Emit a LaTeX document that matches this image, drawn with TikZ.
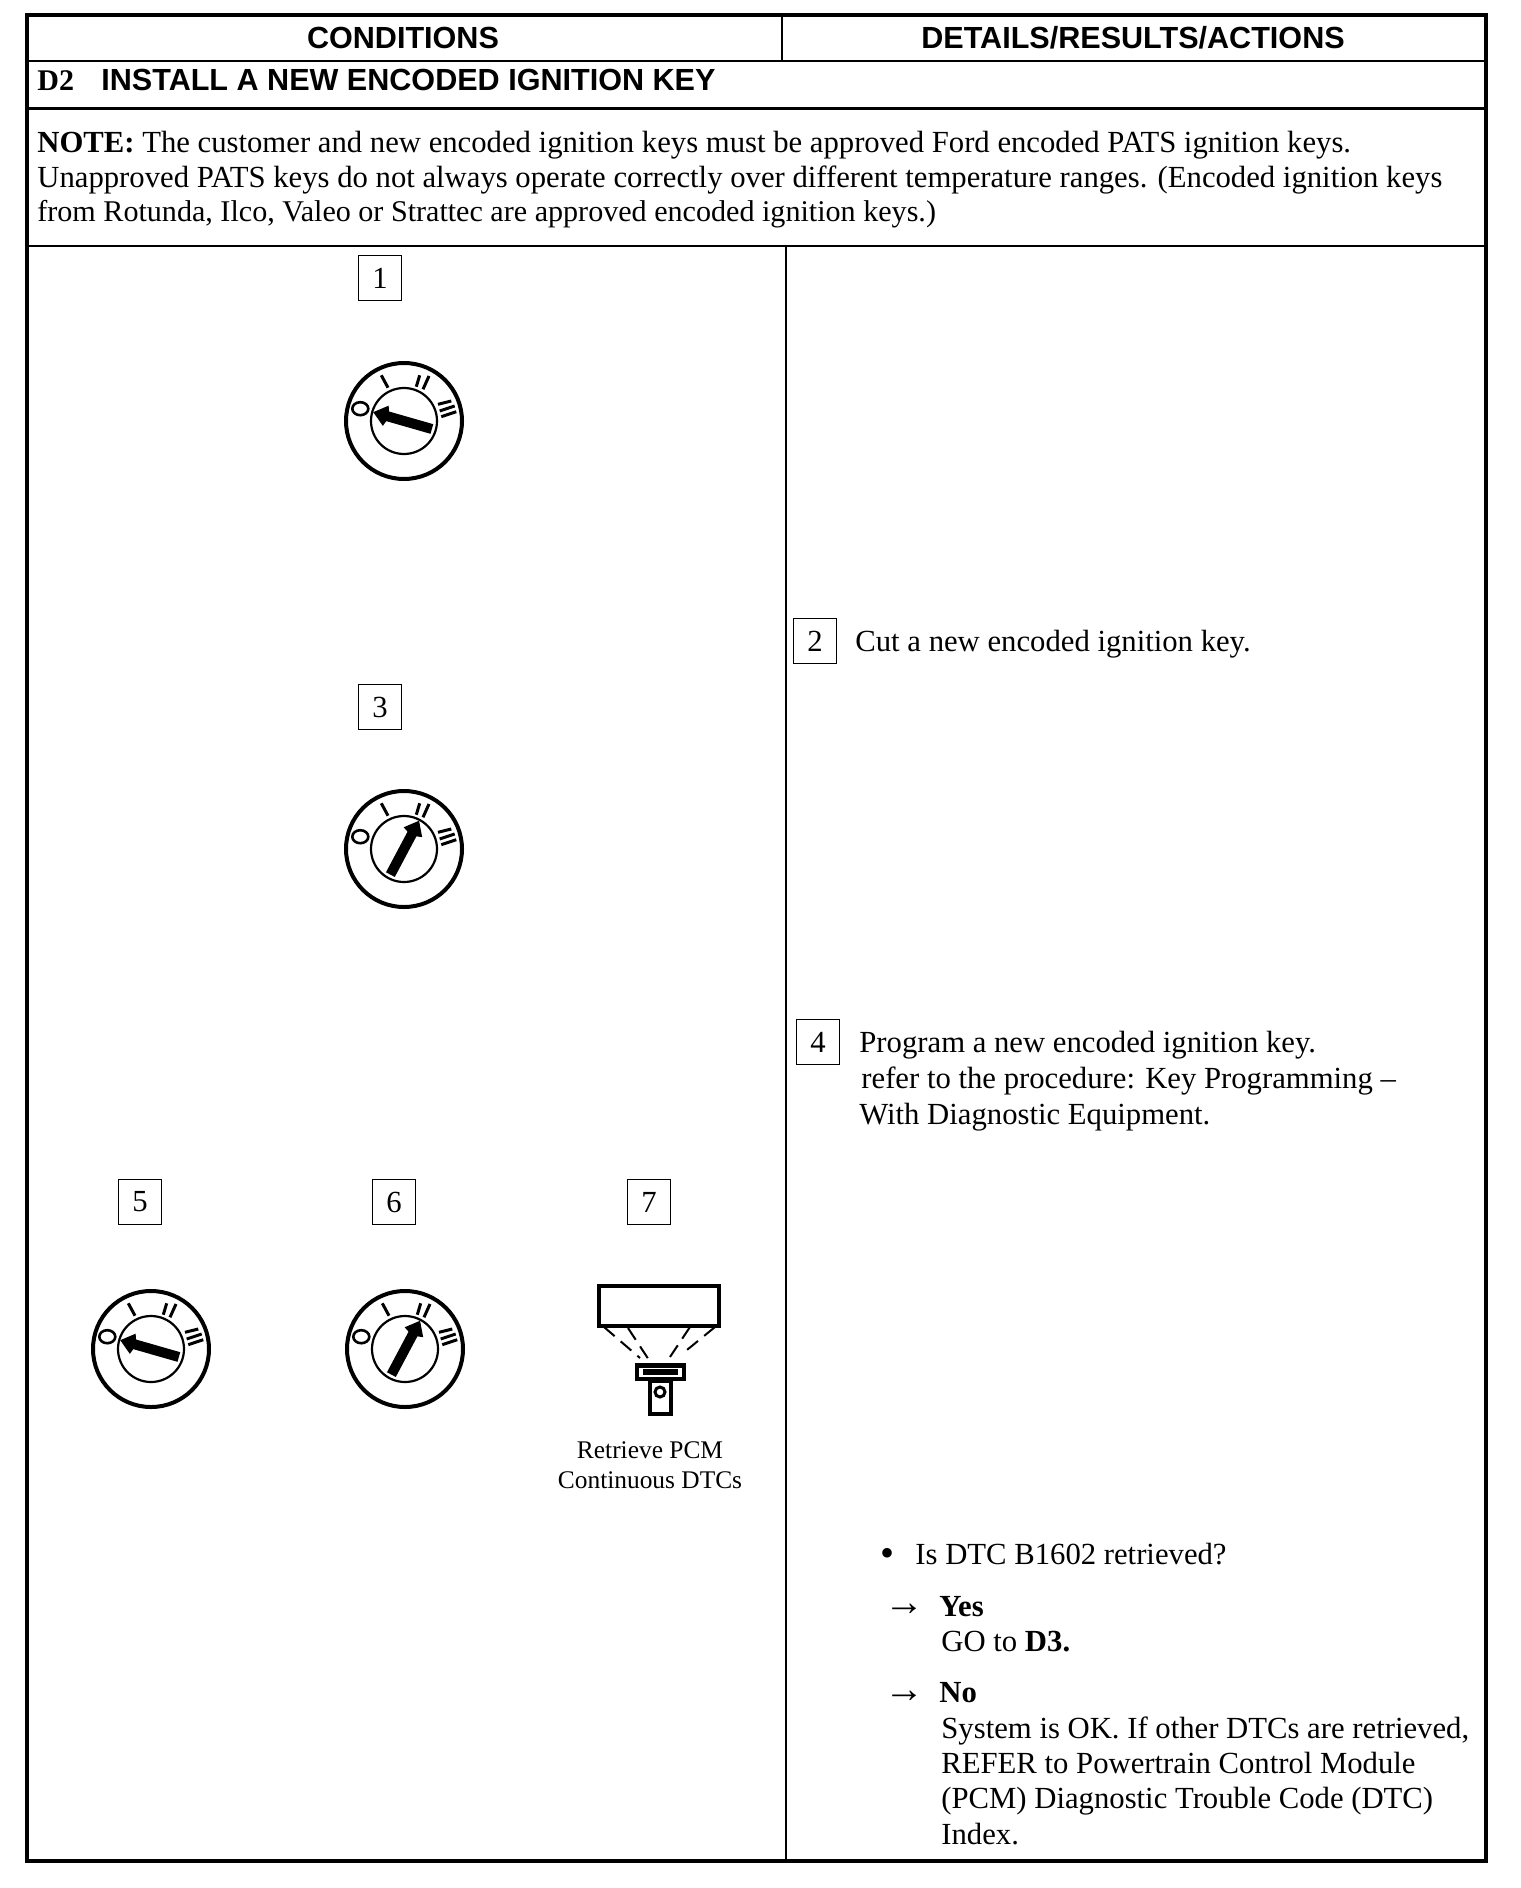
\documentclass[tikz,border=0pt]{standalone}
\usepackage{fontspec}
\setmainfont{Liberation Serif}
\newfontfamily\hdfont{Liberation Sans}
\tikzset{
  frameline/.style={line width=2pt,black},
  rule/.style={line width=1.4pt,black},
  body/.style={inner sep=0pt,anchor=base west,font=\fontsize{15.35}{17}\selectfont},
  small/.style={inner sep=0pt,anchor=base,font=\fontsize{12.7}{14}\selectfont},
  head/.style={inner sep=0pt,anchor=base,font=\hdfont\bfseries\fontsize{15.28}{18}\selectfont},
  bigsym/.style={inner sep=0pt,anchor=base west,font=\fontsize{20}{20}\selectfont},
  stepbox/.style={draw,line width=.8pt,minimum width=21.5pt,minimum height=22.5pt,inner sep=0pt,font=\fontsize{15.35}{17}\selectfont},
  tick/.style={line width=1.5pt},
  beam/.style={line width=1pt,dash pattern=on 7pt off 4pt},
}
\newcommand{\keydial}[3]{%
  \begin{scope}[shift={(#1,#2)}]
    \draw[line width=2pt] (0,0) circle (58);
    \draw[line width=1.1pt] (0,0) circle (33);
    \draw[tick] (-22.7,-45.7) -- (-16,-33.3);
    \draw[tick] (15.7,-45.7) -- (12.3,-34.3);
    \draw[tick] (25,-45) -- (19,-31.7);
    \draw[tick] (34,-16.7) -- (47.3,-20);
    \draw[tick] (35.7,-10) -- (50.7,-15);
    \draw[tick] (37.3,-4.3) -- (52.3,-9.3);
    \draw[line width=1.3pt] (-43.7,-12.3) ellipse (8 and 6.5);
    \fill[rotate=#3] (-17,-5) -- (29,-5) -- (29,5) -- (-17,5) -- (-19,10.5) -- (-32,0) -- (-19,-10.5) -- cycle;
  \end{scope}}
\begin{document}
\begin{tikzpicture}[x=.5pt,y=-.5pt]
\useasboundingbox (0,0) rectangle (1520,1888);
\fill[white] (0,0) rectangle (1520,1888);
% table
\coordinate (tl) at (27,15); \coordinate (tr) at (1486,15);
\coordinate (bl) at (27,1861); \coordinate (br) at (1486,1861);
\draw[frameline] (tl) -- (tr) -- (br) -- (bl) -- cycle;
\draw[rule] (27,61) -- (1486,61);
\draw[rule] (27,108.5) -- (1486,108.5);
\draw[rule] (27,246) -- (1486,246);
\draw[rule] (782,15) -- (782,61);
\draw[rule] (786,246) -- (786,1861);
% headers
\node[head] (hc) at (403,49) {CONDITIONS};
\node[head] (hd) at (1133,49) {DETAILS/RESULTS/ACTIONS};
\node[inner sep=0pt,anchor=base west,font=\fontsize{15}{18}\selectfont\bfseries] (d2) at (37,91) {D2};
\node[head,anchor=base west] (d2t) at (101,91) {INSTALL A NEW ENCODED IGNITION KEY};
% note
\node[body] (n1) at (37,153) {\textbf{NOTE:} The customer and new encoded ignition keys must be approved Ford encoded PATS ignition keys.};
\node[body] (n2) at (37,188) {Unapproved PATS keys do not always operate correctly over different temperature ranges. (Encoded ignition keys};
\node[body,font=\fontsize{15.05}{17}\selectfont] (n3) at (37,222) {from Rotunda, Ilco, Valeo or Strattec are approved encoded ignition keys.)};
% step boxes
\node[stepbox] (s1) at (380,278) {1};
\node[stepbox] (s2) at (815,641) {2};
\node[stepbox] (s3) at (380,707) {3};
\node[stepbox] (s4) at (818,1042) {4};
\node[stepbox] (s5) at (140,1202) {5};
\node[stepbox] (s6) at (394,1202) {6};
\node[stepbox] (s7) at (649,1202) {7};
% dials
\keydial{404}{421}{-16}
\keydial{404}{849}{-118}
\keydial{151}{1349}{-16}
\keydial{405}{1349}{-118}
% scan tool
\draw[line width=1.8pt] (599,1286) rectangle (719,1326);
\draw[beam] (604,1327) -- (640,1358);
\draw[beam] (628,1328) -- (649,1360);
\draw[beam] (690,1327) -- (668,1360);
\draw[beam] (715,1327) -- (682,1354);
\fill (635,1363) rectangle (686,1381);
\fill[white] (639,1368) rectangle (682,1377);
\fill (643,1369) rectangle (678,1375);
\draw[line width=1.8pt,fill=white] (650,1381) rectangle (671,1414);
\draw[line width=1.5pt] (660,1392) circle (5);
\node[small] (r1) at (650,1458) {Retrieve PCM};
\node[small] (r2) at (650,1488) {Continuous DTCs};
% right column
\node[body] (t2) at (855,651) {Cut a new encoded ignition key.};
\node[body] (t4a) at (859,1052) {Program a new encoded ignition key.};
\node[body] (t4b) at (861,1088) {refer to the procedure: Key Programming --};
\node[body] (t4c) at (859,1124) {With Diagnostic Equipment.};
\node[bigsym] (b0) at (880,1566) {•};
\node[body] (q) at (915,1564) {Is DTC B1602 retrieved?};
\node[bigsym] (a1) at (884,1615) {→};
\node[body] (y1) at (939,1616) {\textbf{Yes}};
\node[body] (y2) at (941,1651) {GO to \textbf{D3.}};
\node[bigsym] (a2) at (884,1702) {→};
\node[body] (no) at (939,1702) {\textbf{No}};
\node[body] (l1) at (941,1738) {System is OK. If other DTCs are retrieved,};
\node[body] (l2) at (941,1773) {REFER to Powertrain Control Module};
\node[body] (l3) at (941,1808) {(PCM) Diagnostic Trouble Code (DTC)};
\node[body] (l4) at (941,1844) {Index.};
\end{tikzpicture}
\end{document}
